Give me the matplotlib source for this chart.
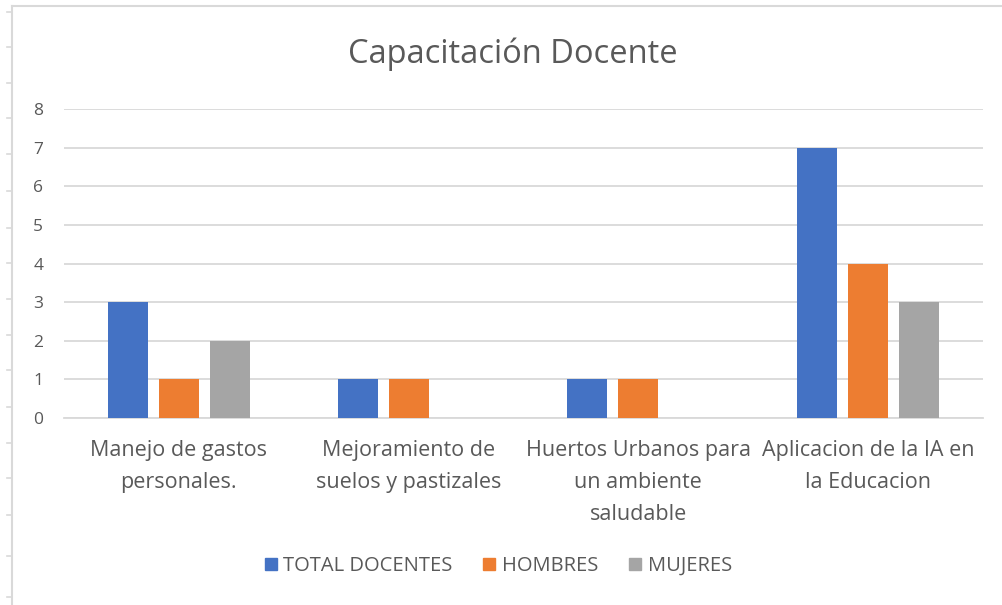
import matplotlib
matplotlib.use("Agg")
import matplotlib.pyplot as plt
import numpy as np
from matplotlib.lines import Line2D

categories = [
    "Manejo de gastos\npersonales.",
    "Mejoramiento de\nsuelos y pastizales",
    "Huertos Urbanos para\nun ambiente\nsaludable",
    "Aplicacion de la IA en\nla Educacion",
]
series_names = ["TOTAL DOCENTES", "HOMBRES", "MUJERES"]
total_docentes = [3, 1, 1, 7]
hombres = [1, 1, 1, 4]
mujeres = [2, 0, 0, 3]
y_ticks = [0, 1, 2, 3, 4, 5, 6, 7, 8]

# sheet row markers along the left edge (pixel rows)
row_marks = [12, 47, 83, 118, 154, 191, 228, 263, 299, 335, 370, 407, 443, 478, 515, 556, 597]

colors = ["#4472C4", "#ED7D31", "#A5A5A5"]
text_color = "#595959"
grid_color = "#D9D9D9"

plt.rcParams["font.family"] = ["Open Sans", "DejaVu Sans"]

W, H = 1003, 605
fig = plt.figure(figsize=(W / 100, H / 100), dpi=100)
ax = fig.add_axes([64 / W, 1 - 418 / H, 919 / W, 309 / H])

x = np.arange(len(categories))
width = 0.174
step = 0.222
for i, (name, values) in enumerate(zip(series_names, [total_docentes, hombres, mujeres])):
    ax.bar(x + (i - 1) * step, values, width=width, color=colors[i], label=name, zorder=3)

ax.set_xlim(-0.5, len(categories) - 0.5)
ax.set_ylim(0, 8)
ax.set_yticks(y_ticks)
ax.set_yticklabels([str(v) for v in y_ticks], fontsize=12.5, color=text_color)
ax.tick_params(axis="y", length=0, pad=15)
ax.set_xticks(x)
ax.set_xticklabels(categories, fontsize=15.5, color=text_color, linespacing=1.68)
ax.tick_params(axis="x", length=0, pad=16)
ax.grid(axis="y", color=grid_color, linewidth=1.3, zorder=0)
for side in ["left", "right", "top"]:
    ax.spines[side].set_visible(False)
ax.spines["bottom"].set_color(grid_color)
ax.spines["bottom"].set_linewidth(1.3)

fig.text(513 / W, 1 - 54 / H, "Capacitación Docente", fontsize=23.5, color=text_color,
         ha="center", va="center")

handles = [Line2D([], [], marker="s", linestyle="none", markersize=9,
                  markerfacecolor=c, markeredgecolor=c) for c in colors]
fig.legend(handles, series_names, loc="center", bbox_to_anchor=(498 / W, 1 - 566 / H),
           ncol=3, frameon=False, fontsize=14.5, labelcolor=text_color,
           handletextpad=0.3, columnspacing=1.5, handlelength=0.65)

# chart frame and sheet markers
fig.add_artist(Line2D([12 / W, 12 / W], [0, 1 - 6 / H], color=grid_color, linewidth=1.5,
                      transform=fig.transFigure))
fig.add_artist(Line2D([12 / W, 1], [1 - 6 / H, 1 - 6 / H], color=grid_color, linewidth=1.5,
                      transform=fig.transFigure))
for r in row_marks:
    fig.add_artist(Line2D([7 / W, 12 / W], [1 - r / H, 1 - r / H], color=grid_color,
                          linewidth=1.2, transform=fig.transFigure))

fig.savefig("out.png", dpi=100)
